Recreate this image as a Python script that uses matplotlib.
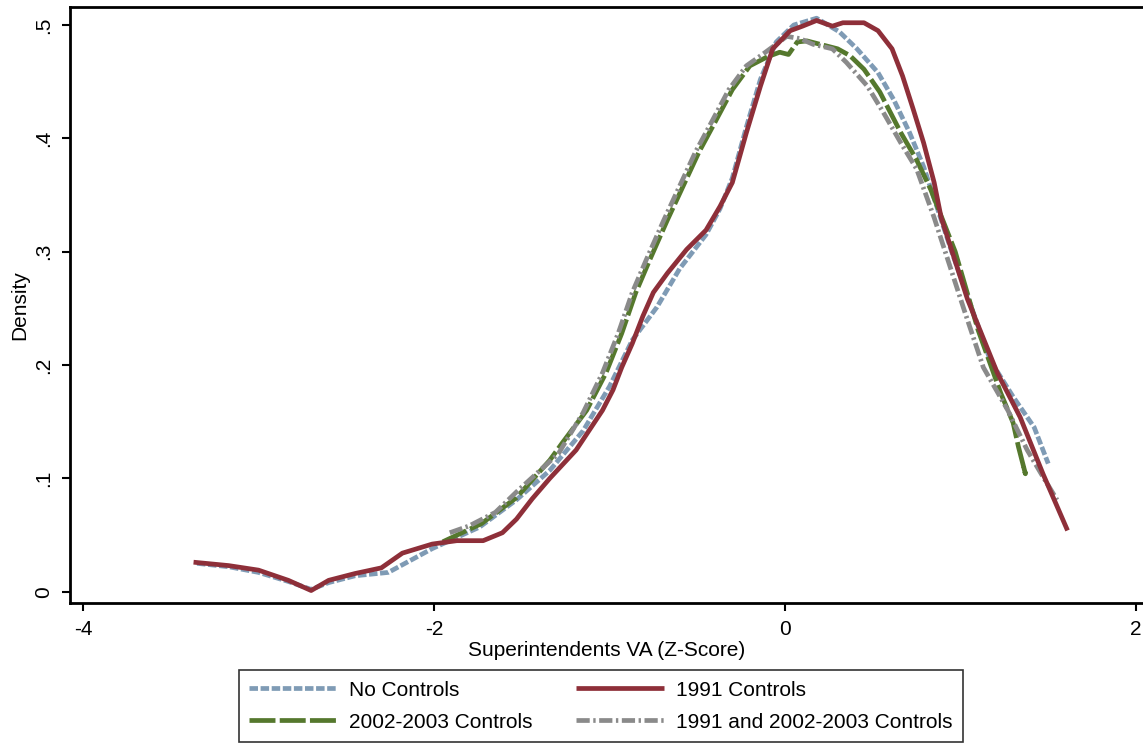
import matplotlib
matplotlib.use("Agg")
import matplotlib.pyplot as plt

plt.rcParams["font.family"] = ["Liberation Sans", "DejaVu Sans"]

# Kernel density estimates of superintendent value added, by control set
no_ctrl_x = [-3.35, -3.17, -3.00, -2.83, -2.70, -2.60, -2.45, -2.26, -2.01, -1.74,
             -1.53, -1.34, -1.15, -1.00, -0.87, -0.73, -0.60, -0.45, -0.37, -0.30,
             -0.22, -0.14, -0.05, 0.05, 0.18, 0.31, 0.41, 0.53, 0.62, 0.71,
             0.79, 0.95, 1.17, 1.30, 1.42, 1.50]
no_ctrl_y = [0.025, 0.022, 0.017, 0.009, 0.002, 0.008, 0.014, 0.017, 0.038, 0.057,
             0.081, 0.107, 0.142, 0.181, 0.222, 0.251, 0.285, 0.315, 0.338, 0.365,
             0.410, 0.452, 0.485, 0.500, 0.506, 0.494, 0.479, 0.458, 0.434, 0.405,
             0.375, 0.300, 0.204, 0.172, 0.145, 0.113]

c1991_x = [-3.37, -3.17, -3.00, -2.83, -2.70, -2.60, -2.45, -2.30, -2.18, -2.01,
           -1.87, -1.72, -1.61, -1.53, -1.44, -1.34, -1.19, -1.04, -0.98, -0.93,
           -0.87, -0.81, -0.75, -0.67, -0.56, -0.45, -0.37, -0.30, -0.22, -0.14,
           -0.07, 0.03, 0.10, 0.18, 0.27, 0.33, 0.45, 0.53, 0.61, 0.67,
           0.73, 0.79, 0.85, 0.89, 1.04, 1.21, 1.34, 1.47, 1.61]
c1991_y = [0.026, 0.023, 0.019, 0.010, 0.001, 0.010, 0.016, 0.021, 0.034, 0.042,
           0.045, 0.045, 0.052, 0.064, 0.082, 0.100, 0.125, 0.160, 0.178, 0.198,
           0.219, 0.243, 0.264, 0.281, 0.302, 0.319, 0.340, 0.361, 0.405, 0.446,
           0.479, 0.495, 0.499, 0.504, 0.499, 0.502, 0.502, 0.495, 0.479, 0.455,
           0.426, 0.396, 0.361, 0.330, 0.258, 0.193, 0.154, 0.104, 0.054]

c0203_x = [-1.95, -1.73, -1.53, -1.34, -1.27, -1.13, -1.02, -0.93, -0.85, -0.77,
           -0.67, -0.58, -0.49, -0.41, -0.30, -0.20, -0.10, -0.03, 0.02, 0.07,
           0.125, 0.20, 0.30, 0.37, 0.45, 0.54, 0.66, 0.75, 0.83, 0.97,
           1.10, 1.23, 1.30, 1.33, 1.37, 1.36]
c0203_y = [0.044, 0.060, 0.083, 0.116, 0.131, 0.160, 0.193, 0.228, 0.264, 0.293,
           0.328, 0.358, 0.388, 0.411, 0.443, 0.464, 0.472, 0.476, 0.474, 0.485,
           0.486, 0.483, 0.479, 0.473, 0.461, 0.441, 0.405, 0.381, 0.355, 0.300,
           0.231, 0.175, 0.149, 0.128, 0.104, 0.110]

both_x = [-1.91, -1.80, -1.65, -1.53, -1.29, -1.15, -1.04, -0.95, -0.87, -0.79,
          -0.69, -0.60, -0.51, -0.43, -0.32, -0.22, -0.12, -0.05, 0.01, 0.086,
          0.16, 0.27, 0.35, 0.47, 0.56, 0.66, 0.75, 0.85, 1.02, 1.13,
          1.27, 1.38, 1.46, 1.55]
both_y = [0.052, 0.058, 0.070, 0.088, 0.122, 0.158, 0.193, 0.228, 0.264, 0.293,
          0.328, 0.358, 0.388, 0.411, 0.443, 0.464, 0.475, 0.483, 0.490, 0.488,
          0.483, 0.479, 0.467, 0.446, 0.423, 0.396, 0.373, 0.330, 0.249, 0.198,
          0.160, 0.125, 0.104, 0.081]

series_labels = ["No Controls", "1991 Controls", "2002-2003 Controls",
                 "1991 and 2002-2003 Controls"]
x_ticks = [-4, -2, 0, 2]
x_tick_labels = ["-4", "-2", "0", "2"]
y_ticks = [0, 0.1, 0.2, 0.3, 0.4, 0.5]
y_tick_labels = ["0", ".1", ".2", ".3", ".4", ".5"]

W, H = 1143, 745
fig = plt.figure(figsize=(W / 100, H / 100), dpi=100)
ax = fig.add_axes([70 / W, (H - 603) / H, 1 - 70 / W, (603 - 7) / H])

fs = 15
lw = 3.4
blue = "#7f9bb5"
red = "#8e2f39"
green = "#55782d"
gray = "#8a8a8a"

l_blue, = ax.plot(no_ctrl_x, no_ctrl_y, color=blue, lw=lw, dashes=(1.8, 0.55),
                  dash_capstyle="butt", solid_joinstyle="round",
                  label=series_labels[0], zorder=3)
l_red, = ax.plot(c1991_x, c1991_y, color=red, lw=lw, solid_capstyle="butt",
                 solid_joinstyle="round", label=series_labels[1], zorder=4)
l_green, = ax.plot(c0203_x, c0203_y, color=green, lw=lw, dashes=(5.5, 0.9),
                   dash_capstyle="butt", label=series_labels[2], zorder=3)
l_gray, = ax.plot(both_x, both_y, color=gray, lw=lw, dashes=(2.8, 0.75, 0.5, 0.75),
                  dash_capstyle="butt", label=series_labels[3], zorder=3)

ax.set_xlim(-4.074, 2.04)
ax.set_ylim(-0.0100, 0.5159)

ax.set_xticks(x_ticks)
ax.set_xticklabels(x_tick_labels, fontsize=fs)
ax.set_yticks(y_ticks)
ax.set_yticklabels(y_tick_labels, fontsize=fs, rotation=90, va="center")
ax.tick_params(axis="both", direction="out", length=6, width=1.5, color="black")
ax.tick_params(axis="x", pad=6)
ax.tick_params(axis="y", pad=6)

for side in ["left", "bottom", "top"]:
    ax.spines[side].set_color("black")
    ax.spines[side].set_linewidth(2.0)
ax.spines["right"].set_visible(False)

ax.set_xlabel("Superintendents VA (Z-Score)", fontsize=fs, labelpad=2)
ax.set_ylabel("Density", fontsize=fs, labelpad=4)

# legend fills column by column: left column blue/green, right column red/gray
handles = [l_blue, l_green, l_red, l_gray]
labels = [series_labels[0], series_labels[2], series_labels[1], series_labels[3]]
leg = fig.legend(handles, labels, ncol=2, fontsize=fs,
                 loc="lower center", bbox_to_anchor=(601 / W, 3 / H),
                 frameon=True, fancybox=False, edgecolor="black",
                 handlelength=4.2, handletextpad=0.6, columnspacing=2.1,
                 labelspacing=0.62, borderpad=0.5, borderaxespad=0)
leg.get_frame().set_linewidth(1.2)

fig.savefig("out.png", dpi=100, facecolor="white")
